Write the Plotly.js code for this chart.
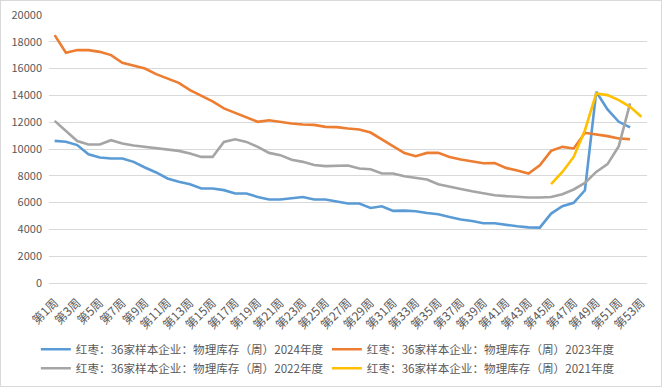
<!DOCTYPE html>
<html>
<head>
<meta charset="utf-8">
<script src="https://cdn.plot.ly/plotly-3.0.1.min.js"></script>
<style>
html,body{margin:0;padding:0;background:#fff;}
#wrap{width:662px;height:387px;box-sizing:border-box;border:1px solid #d9d9d9;overflow:hidden;}
#chart{width:660px;height:385px;}
</style>
</head>
<body>
<div id="wrap"><div id="chart"></div></div>
<script>
const weeks = ['第1周','第2周','第3周','第4周','第5周','第6周','第7周','第8周','第9周','第10周',
  '第11周','第12周','第13周','第14周','第15周','第16周','第17周','第18周','第19周','第20周',
  '第21周','第22周','第23周','第24周','第25周','第26周','第27周','第28周','第29周','第30周',
  '第31周','第32周','第33周','第34周','第35周','第36周','第37周','第38周','第39周','第40周',
  '第41周','第42周','第43周','第44周','第45周','第46周','第47周','第48周','第49周','第50周',
  '第51周','第52周','第53周'];
const tickLabels = ['第1周','第3周','第5周','第7周','第9周','第11周','第13周','第15周','第17周','第19周',
  '第21周','第23周','第25周','第27周','第29周','第31周','第33周','第35周','第37周','第39周',
  '第41周','第43周','第45周','第47周','第49周','第51周','第53周'];

const names = ['红枣：36家样本企业：物理库存（周）2024年度','红枣：36家样本企业：物理库存（周）2023年度',
  '红枣：36家样本企业：物理库存（周）2022年度','红枣：36家样本企业：物理库存（周）2021年度'];

const y2024 = [10610,10540,10290,9610,9370,9290,9290,9040,8620,8250,
  7800,7550,7370,7050,7050,6930,6680,6680,6420,6230,
  6230,6330,6420,6230,6230,6080,5930,5930,5600,5730,
  5380,5400,5350,5230,5130,4930,4740,4630,4460,4460,
  4330,4230,4150,4130,5180,5730,5980,6920,14270,12950,
  12030,11610,null];
const y2023 = [18500,17180,17380,17380,17250,17010,16430,16240,16010,15590,
  15250,14940,14390,13950,13550,13030,12700,12350,12030,12150,
  12000,11900,11830,11800,11650,11630,11530,11460,11230,10730,
  10210,9700,9460,9710,9710,9410,9220,9090,8940,8960,
  8590,8400,8170,8790,9860,10160,10040,11210,11110,10960,
  10790,10730,null];
const y2022 = [12100,11330,10590,10340,10340,10660,10410,10260,10160,10060,
  9950,9860,9660,9410,9410,10530,10730,10530,10160,9710,
  9540,9200,9040,8800,8720,8770,8770,8540,8490,8170,
  8170,7970,7870,7720,7370,7170,7020,6850,6680,6550,
  6480,6420,6380,6380,6420,6630,6980,7470,8290,8870,
  10210,13400,null];
const y2021 = [null,null,null,null,null,null,null,null,null,null,
  null,null,null,null,null,null,null,null,null,null,
  null,null,null,null,null,null,null,null,null,null,
  null,null,null,null,null,null,null,null,null,null,
  null,null,null,null,7370,8290,9410,11400,14150,14020,
  13650,13150,12400];

const colors = ['#5B9BD5','#ED7D31','#A5A5A5','#FFC000'];
const series = [y2024,y2023,y2022,y2021];

const traces = series.map((ys,i)=>({
  type:'scatter', mode:'lines', x:weeks, y:ys, name:names[i],
  line:{color:colors[i], width:2.6}, connectgaps:false
}));

const font = "'Noto Sans CJK SC','Noto Sans',sans-serif";
const layout = {
  width:660, height:385,
  margin:{l:48, r:14, t:14, b:103, autoexpand:false},
  paper_bgcolor:'#fff', plot_bgcolor:'#fff',
  font:{family:font, color:'#595959', size:11},
  showlegend:true,
  xaxis:{type:'category', range:[-0.5,52.5], tickmode:'array', tickvals:tickLabels, ticktext:tickLabels,
    tickangle:-45, tickfont:{size:12, color:'#595959', family:font}, showgrid:false, zeroline:false,
    showline:true, linecolor:'#d9d9d9', linewidth:1, ticks:'', ticklabelstandoff:7, fixedrange:true},
  yaxis:{range:[0,20000], dtick:2000, tick0:0, tickformat:'d', showgrid:true, gridcolor:'#d9d9d9', gridwidth:1,
    zeroline:false, showline:false, ticks:'', ticklabelstandoff:6,
    tickfont:{size:11, color:'#595959', family:font}, fixedrange:true},
  legend:{orientation:'h', x:-0.022, xanchor:'left', y:-0.193, yanchor:'top',
    font:{size:11.6, color:'#595959', family:font}, entrywidth:246, entrywidthmode:'pixels',
    itemwidth:30, tracegroupgap:0, bgcolor:'rgba(0,0,0,0)'}
};
Plotly.newPlot('chart', traces, layout, {displayModeBar:false, staticPlot:true});
</script>
</body>
</html>
